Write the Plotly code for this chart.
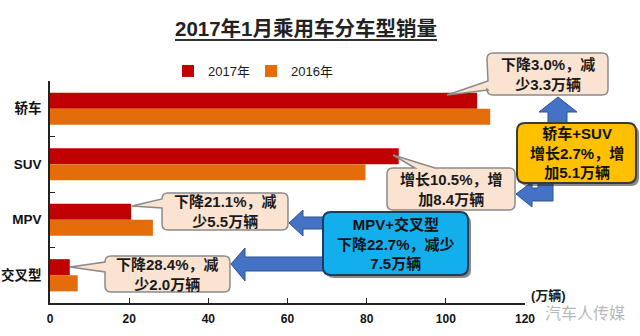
import plotly.graph_objects as go

# ---------------- data ----------------
categories = ["轿车", "SUV", "MPV", "交叉型"]
sales_2017 = [107.9, 88.1, 20.5, 5.0]
sales_2016 = [111.2, 79.7, 26.0, 7.0]
series_names = ["2017年", "2016年"]
x_ticks = [0, 20, 40, 60, 80, 100, 120]

title_text = "2017年1月乘用车分车型销量"
unit_text = "(万辆)"
watermark_text = "汽车人传媒"
text_sedan = "下降3.0%，减<br>少3.3万辆"
text_suv = "增长10.5%，增<br>加8.4万辆"
text_mpv = "下降21.1%，减<br>少5.5万辆"
text_cross = "下降28.4%，减<br>少2.0万辆"
text_sedan_suv = "轿车+SUV<br>增长2.7%，增<br>加5.1万辆"
text_mpv_cross = "MPV+交叉型<br>下降22.7%，减少<br>7.5万辆"

# ---------------- layout geometry (pixels) ----------------
W, H = 640, 336
L, R, T, B = 50, 525, 81, 303
FONT = "Liberation Sans, Noto Sans CJK SC, sans-serif"


def X(px):
    return (px - L) / (R - L)


def Y(py):
    return (B - py) / (B - T)


def P(pt):
    return f"{X(pt[0]):.5f},{Y(pt[1]):.5f}"


def rrect_path(x0, y0, x1, y1, r, tail=None):
    edge = tail[0] if tail else None
    pts = tail[1:] if tail else []
    s = f"M {P((x0 + r, y0))} "
    if edge == "top":
        for p in pts:
            s += f"L {P(p)} "
    s += f"L {P((x1 - r, y0))} Q {P((x1, y0))} {P((x1, y0 + r))} "
    s += f"L {P((x1, y1 - r))} Q {P((x1, y1))} {P((x1 - r, y1))} "
    s += f"L {P((x0 + r, y1))} Q {P((x0, y1))} {P((x0, y1 - r))} "
    if edge == "left":
        for p in pts:
            s += f"L {P(p)} "
    s += f"L {P((x0, y0 + r))} Q {P((x0, y0))} {P((x0 + r, y0))} Z"
    return s


def poly_path(pts):
    return "M " + " L ".join(P(p) for p in pts) + " Z"


shapes = []
ARROW_FILL = "#4472C4"
ARROW_LINE = "#2F528F"

# arrows (drawn first, under boxes)
arrows = [
    # up arrow from yellow box to sedan callout
    [(558, 97), (577, 112), (567, 112), (567, 130), (548, 130), (548, 112), (539, 112)],
    # elbow arrow from yellow box to SUV callout
    [(516, 194), (532, 182), (532, 188), (538, 188), (538, 175), (553, 175),
     (553, 201), (532, 201), (532, 207)],
    # arrow from blue box to MPV callout
    [(289, 223), (303, 210), (303, 217), (335, 217), (335, 229), (303, 229), (303, 236)],
    # arrow from blue box to crossover callout
    [(231, 264), (245, 248), (245, 257), (335, 257), (335, 271), (245, 271), (245, 281)],
]
for a in arrows:
    shapes.append(dict(type="path", xref="paper", yref="paper", path=poly_path(a),
                       fillcolor=ARROW_FILL, line=dict(color=ARROW_LINE, width=1)))

PEACH = "#FBE3D1"
PEACH_LINE = "#8A8A8A"
callouts = [
    ((487, 53, 608, 95), ("left", (488, 90), (447, 95), (488, 81)), text_sedan),
    ((387, 168, 515, 210), ("top", (415, 168), (393, 155), (435, 168)), text_suv),
    ((162, 193, 288, 230), ("left", (162, 208), (132, 206), (162, 199)), text_mpv),
    ((105, 256, 230, 292), ("left", (105, 272), (70, 267), (105, 262)), text_cross),
]
for (x0, y0, x1, y1), tail, _ in callouts:
    shapes.append(dict(type="path", xref="paper", yref="paper",
                       path=rrect_path(x0, y0, x1, y1, 6, tail),
                       fillcolor=PEACH, line=dict(color=PEACH_LINE, width=1.5)))

big_boxes = [
    ((517, 123, 636, 183), "#FFC000", "#3A3A3A", text_sedan_suv),
    ((323, 212, 468, 275), "#13AFEC", "#1F3A60", text_mpv_cross),
]
for (x0, y0, x1, y1), fill, line, _ in big_boxes:
    shapes.append(dict(type="path", xref="paper", yref="paper",
                       path=rrect_path(x0 + 3, y0 + 3, x1 + 3, y1 + 3, 8),
                       fillcolor="rgba(40,40,40,0.55)", line=dict(width=0)))
    shapes.append(dict(type="path", xref="paper", yref="paper",
                       path=rrect_path(x0, y0, x1, y1, 8),
                       fillcolor=fill, line=dict(color=line, width=2)))

# title underline
shapes.append(dict(type="line", xref="paper", yref="paper",
                   x0=X(175), x1=X(437), y0=Y(40), y1=Y(40),
                   line=dict(color="#333333", width=2)))

annotations = []
for (x0, y0, x1, y1), _, txt in callouts:
    annotations.append(dict(x=X((x0 + x1) / 2), y=Y((y0 + y1) / 2), xref="paper", yref="paper",
                            text=txt, showarrow=False, xanchor="center", yanchor="middle",
                            font=dict(family=FONT, size=15, color="#1a1a1a", weight="bold")))
for (x0, y0, x1, y1), _, _, txt in big_boxes:
    annotations.append(dict(x=X((x0 + x1) / 2), y=Y((y0 + y1) / 2), xref="paper", yref="paper",
                            text=txt, showarrow=False, xanchor="center", yanchor="middle",
                            font=dict(family=FONT, size=15, color="#111111", weight="bold")))

annotations.append(dict(x=X(306), y=Y(29), xref="paper", yref="paper", text=title_text,
                        showarrow=False, xanchor="center", yanchor="middle",
                        font=dict(family=FONT, size=20.5, color="#222222", weight="bold")))
annotations.append(dict(x=X(585), y=Y(313), xref="paper", yref="paper", text=watermark_text,
                        showarrow=False, xanchor="center", yanchor="middle",
                        font=dict(family=FONT, size=16, color="rgba(150,150,150,0.7)")))
annotations.append(dict(x=X(548), y=Y(295), xref="paper", yref="paper", text=unit_text,
                        showarrow=False, xanchor="center", yanchor="middle",
                        font=dict(family=FONT, size=13, color="#1a1a1a", weight="bold")))

fig = go.Figure()
fig.add_trace(go.Bar(name=series_names[0], y=categories, x=sales_2017, orientation="h",
                     marker=dict(color="#C00000", line=dict(width=0))))
fig.add_trace(go.Bar(name=series_names[1], y=categories, x=sales_2016, orientation="h",
                     marker=dict(color="#E46C0A", line=dict(width=0))))

fig.update_layout(
    width=W, height=H, autosize=False,
    margin=dict(l=L, r=W - R, t=T, b=H - B, pad=0),
    paper_bgcolor="white", plot_bgcolor="white",
    barmode="group", bargap=0.42, bargroupgap=0,
    font=dict(family=FONT, color="#1a1a1a"),
    showlegend=True,
    legend=dict(orientation="h", x=X(168), xanchor="left", y=Y(71), yanchor="middle",
                font=dict(family=FONT, size=13, color="#1a1a1a"),
                bgcolor="rgba(0,0,0,0)", itemwidth=30, traceorder="normal",
                entrywidth=38, entrywidthmode="pixels"),
    xaxis=dict(range=[0, 120], tickvals=x_ticks, ticks="inside", ticklen=5,
               tickcolor="#222222", showline=True, linecolor="#222222", linewidth=1.5,
               showgrid=False, zeroline=False, automargin=False, ticklabelstandoff=4,
               tickfont=dict(family=FONT, size=12, color="#111111", weight="bold")),
    yaxis=dict(type="category", categoryorder="array", categoryarray=categories,
               autorange="reversed", tickson="boundaries", ticks="inside", ticklen=5,
               tickcolor="#222222", showline=True, linecolor="#222222", linewidth=1.5,
               showgrid=False, zeroline=False, automargin=False, ticklabelstandoff=4,
               tickfont=dict(family=FONT, size=13.5, color="#111111", weight="bold")),
    shapes=shapes,
    annotations=annotations,
)

fig.write_html("out.html")
